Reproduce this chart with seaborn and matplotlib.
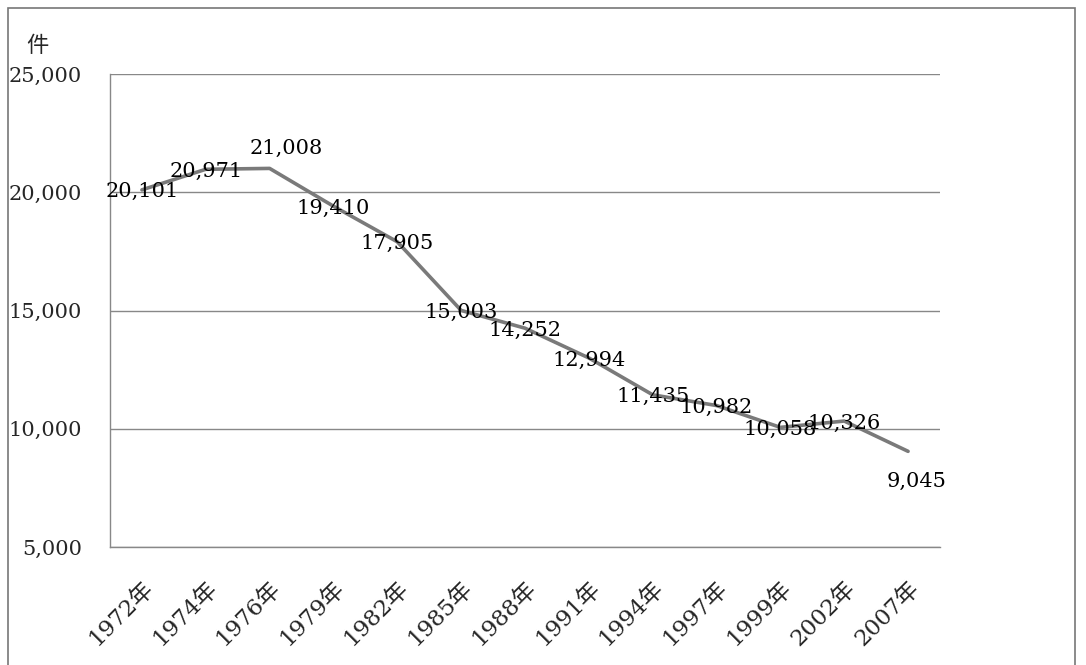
import matplotlib
matplotlib.use("Agg")
import matplotlib.pyplot as plt
import seaborn as sns
import pandas as pd
from matplotlib.patches import Rectangle

# Data
years = ["1972年", "1974年", "1976年", "1979年", "1982年", "1985年", "1988年",
         "1991年", "1994年", "1997年", "1999年", "2002年", "2007年"]
counts = [20101, 20971, 21008, 19410, 17905, 15003, 14252,
          12994, 11435, 10982, 10058, 10326, 9045]
yticks = [5000, 10000, 15000, 20000, 25000]

df = pd.DataFrame({"year": years, "count": counts})
df["pos"] = range(len(df))

sns.set_style("white")
plt.rcParams['font.family'] = ['DejaVu Serif', 'Noto Sans CJK JP', 'DejaVu Sans']

fig = plt.figure(figsize=(10.86, 6.65), dpi=100)
ax = fig.add_axes([110/1086, 1-547/665, 830/1086, 473/665])

sns.lineplot(data=df, x="pos", y="count", ax=ax, color="#7a7a7a", linewidth=2.6)

ax.set_xlim(-0.5, len(years) - 0.5)
ax.set_ylim(5000, 25000)
ax.set_yticks(yticks)
ax.set_yticklabels([f"{v:,}" for v in yticks], fontsize=15)
ax.set_xticks(df["pos"])
ax.set_xticklabels(years, rotation=45, ha="right", rotation_mode="anchor", fontsize=16.5)
ax.set_xticks([p - 0.5 for p in range(len(years) + 1)], minor=True)
ax.tick_params(axis="x", which="major", length=0, pad=22)
ax.tick_params(axis="x", which="minor", length=5, color="#888888", direction="out")
ax.tick_params(axis="y", length=8, color="#888888", direction="out", pad=12)
ax.set_xlabel("")
ax.set_ylabel("")

ax.yaxis.grid(True, color="#888888", linewidth=1)
ax.set_axisbelow(True)
for side in ["top", "right"]:
    ax.spines[side].set_visible(False)
for side in ["left", "bottom"]:
    ax.spines[side].set_color("#888888")
    ax.spines[side].set_linewidth(1)

# data labels
for i, (p, v) in enumerate(zip(df["pos"], df["count"])):
    dx, dy = 0, -2
    if i == 2:
        dx, dy = 17, 20
    elif i == len(counts) - 1:
        dx, dy = 8, -30
    ax.annotate(f"{v:,}", (p, v), xytext=(dx, dy), textcoords="offset pixels",
                ha="center", va="center", fontsize=15, color="black")

fig.text(26/1086, 1-45/665, "件", fontsize=16, ha="left", va="center",
         family=['Noto Sans CJK JP'])

# outer frame
fig.patches.append(Rectangle((8/1086, -0.01), 1075/1086 - 8/1086, 1-8/665 + 0.01,
                             transform=fig.transFigure, fill=False,
                             edgecolor="#777777", linewidth=1.2))

fig.savefig("out.png", dpi=100)
